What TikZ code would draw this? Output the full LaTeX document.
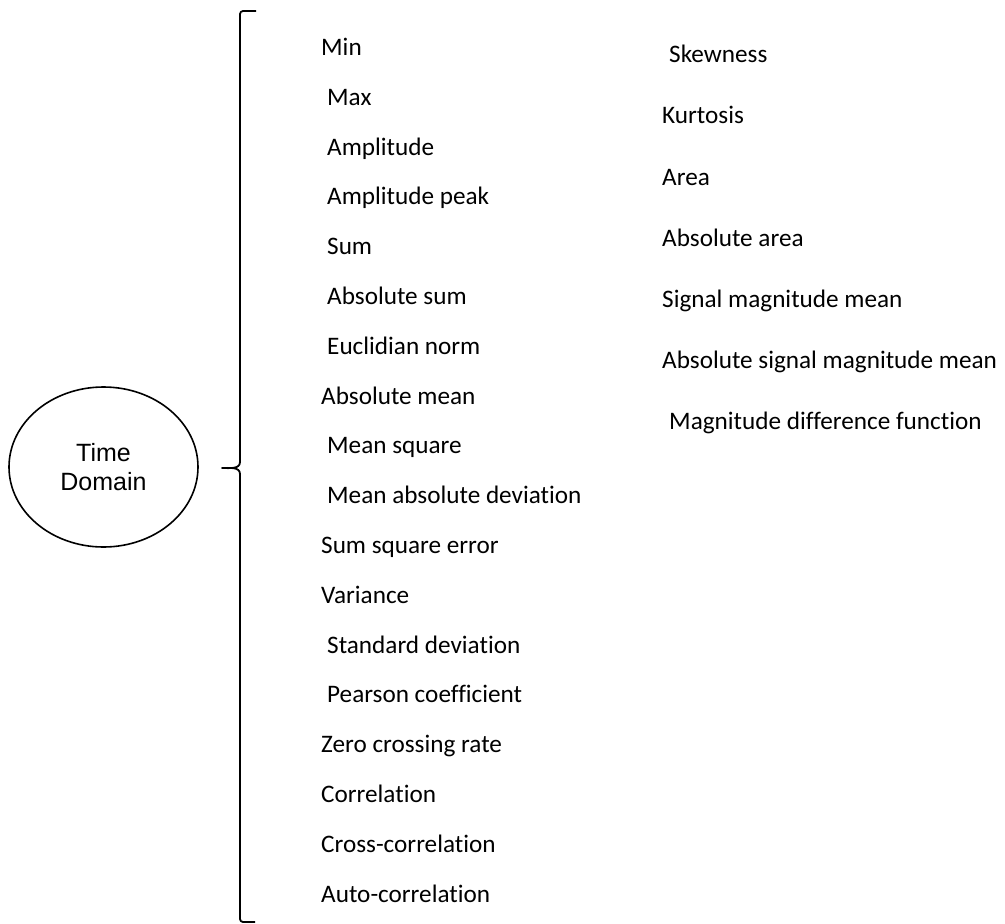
\documentclass[tikz,border=0pt]{standalone}
\usepackage{fontspec}
\setmainfont{Carlito}[Ligatures=CommonOff]
\newfontfamily\ellfont{Liberation Sans}
\usetikzlibrary{shapes.geometric}
\begin{document}
\begin{tikzpicture}[x=1pt,y=-1pt,
  feat/.style={anchor=base west,inner sep=0pt,font=\fontsize{25.2}{28}\selectfont},
  bubble/.style={ellipse,draw,line width=1.6pt,minimum width=189pt,minimum height=160pt,
    inner sep=0pt,align=center,font=\ellfont\fontsize{25}{29}\selectfont},
  bracket/.style={line width=1.8pt,line join=round}]
\useasboundingbox (0,0) rectangle (1005,924);

% domain bubble
\node[bubble] (td) at (103.5,467) {Time\\Domain};

% left column of features
\def\colA{321}\def\colAi{327}
\node[feat] (f1)  at (\colA, 55.5)  {Min};
\node[feat] (f2)  at (\colAi,105.3) {Max};
\node[feat] (f3)  at (\colAi,155.1) {Amplitude};
\node[feat] (f4)  at (\colAi,204.9) {Amplitude peak};
\node[feat] (f5)  at (\colAi,254.7) {Sum};
\node[feat] (f6)  at (\colAi,304.5) {Absolute sum};
\node[feat] (f7)  at (\colAi,354.3) {Euclidian norm};
\node[feat] (f8)  at (\colA, 404.1) {Absolute mean};
\node[feat] (f9)  at (\colAi,453.9) {Mean square};
\node[feat] (f10) at (\colAi,503.7) {Mean absolute deviation};
\node[feat] (f11) at (\colA, 553.5) {Sum square error};
\node[feat] (f12) at (\colA, 603.3) {Variance};
\node[feat] (f13) at (\colAi,653.1) {Standard deviation};
\node[feat] (f14) at (\colAi,702.9) {Pearson coefficient};
\node[feat] (f15) at (\colA, 752.7) {Zero crossing rate};
\node[feat] (f16) at (\colA, 802.5) {Correlation};
\node[feat] (f17) at (\colA, 852.3) {Cross-correlation};
\node[feat] (f18) at (\colA, 902.1) {Auto-correlation};

% right column of features
\def\colB{662}\def\colBi{669}
\node[feat] (g1) at (\colBi, 62.7) {Skewness};
\node[feat] (g2) at (\colB, 123.9) {Kurtosis};
\node[feat] (g3) at (\colB, 185.1) {Area};
\node[feat] (g4) at (\colB, 246.3) {Absolute area};
\node[feat] (g5) at (\colB, 307.5) {Signal magnitude mean};
\node[feat] (g6) at (\colB, 368.7) {Absolute signal magnitude mean};
\node[feat] (g7) at (\colBi,429.9) {Magnitude difference function};

% curly bracket grouping the features
\coordinate (btop) at (256,11);
\coordinate (bbot) at (255,922);
\coordinate (btip) at (222,468);
\draw[bracket] (btop) -- (243,11) to[out=180,in=90] (240,14)
  -- (240,462) to[out=-90,in=0] (btip) to[out=0,in=90] (240,474)
  -- (240,919) to[out=-90,in=180] (243,922) -- (bbot);
\end{tikzpicture}
\end{document}
